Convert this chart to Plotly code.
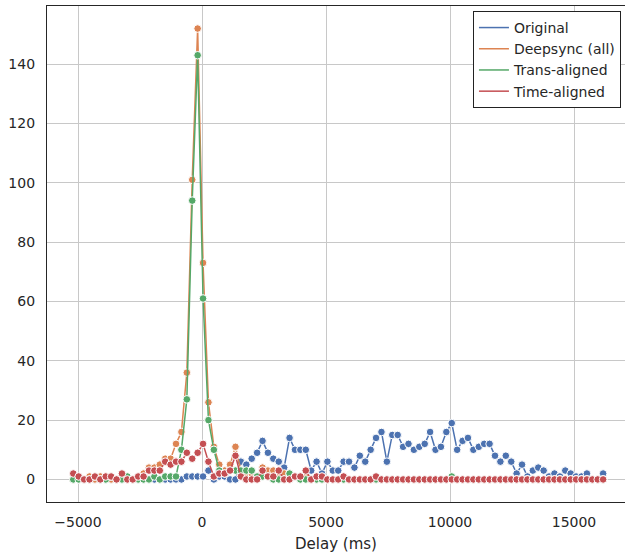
import plotly.graph_objects as go

delay_ms = [-5190, -4972, -4754, -4536, -4318, -4100, -3882, -3664, -3446, -3228,
            -3010, -2792, -2574, -2356, -2138, -1920, -1702, -1484, -1266, -1048,
            -830, -612, -394, -176, 42, 260, 478, 696, 914, 1132,
            1350, 1568, 1786, 2004, 2222, 2440, 2658, 2876, 3094, 3312,
            3530, 3748, 3966, 4184, 4402, 4620, 4838, 5056, 5274, 5492,
            5710, 5928, 6146, 6364, 6582, 6800, 7018, 7236, 7454, 7672,
            7890, 8108, 8326, 8544, 8762, 8980, 9198, 9416, 9634, 9852,
            10070, 10288, 10506, 10724, 10942, 11160, 11378, 11596, 11814, 12032,
            12250, 12468, 12686, 12904, 13122, 13340, 13558, 13776, 13994, 14212,
            14430, 14648, 14866, 15084, 15302, 15520, 15738, 15956, 16174]

original = [0, 0, 0, 0, 0, 0, 0, 0, 0, 0,
            0, 0, 0, 0, 0, 0, 0, 0, 0, 0,
            0, 1, 1, 1, 1, 3, 0, 1, 1, 0,
            0, 6, 5, 7, 9, 13, 9, 7, 6, 4,
            14, 10, 10, 10, 3, 6, 2, 6, 3, 3,
            6, 6, 4, 8, 6, 10, 14, 16, 6, 15,
            15, 11, 12, 10, 11, 12, 16, 10, 11, 16,
            19, 10, 13, 14, 10, 11, 12, 12, 8, 6,
            8, 6, 2, 5, 1, 3, 4, 3, 1, 2,
            1, 3, 2, 1, 1, 2, 0, 0, 2]

deepsync_all = [0, 0, 0, 1, 0, 1, 1, 0, 0, 1,
                0, 0, 1, 2, 4, 4, 5, 7, 7, 12,
                16, 36, 101, 152, 73, 26, 11, 5, 3, 5,
                11, 3, 2, 2, 1, 4, 3, 3, 2, 2,
                2, 1, 1, 1, 0, 0, 0, 0, 0, 0,
                0, 0, 0, 0, 0, 0, 0, 0, 0, 0,
                0, 0, 0, 0, 0, 0, 0, 0, 0, 0,
                0, 0, 0, 0, 0, 0, 0, 0, 0, 0,
                0, 0, 0, 0, 0, 0, 0, 0, 0, 0,
                0, 0, 0, 0, 0, 0, 0, 0, 0]

trans_aligned = [0, 0, 0, 0, 1, 0, 0, 1, 0, 0,
                 1, 0, 0, 0, 0, 1, 0, 1, 1, 1,
                 10, 27, 94, 143, 61, 20, 10, 3, 2, 3,
                 3, 3, 3, 3, 1, 1, 1, 0, 0, 0,
                 2, 1, 0, 0, 0, 0, 0, 0, 0, 0,
                 0, 0, 0, 0, 0, 0, 0, 0, 0, 0,
                 0, 0, 0, 0, 0, 0, 0, 0, 0, 0,
                 1, 0, 0, 0, 0, 0, 0, 0, 0, 0,
                 0, 0, 0, 0, 0, 0, 0, 0, 0, 0,
                 0, 0, 0, 0, 0, 0, 0, 0, 0]

time_aligned = [2, 1, 0, 0, 1, 0, 1, 1, 0, 2,
                0, 0, 1, 1, 3, 3, 3, 6, 5, 6,
                6, 9, 7, 9, 12, 6, 1, 2, 2, 3,
                8, 1, 0, 0, 0, 3, 1, 1, 3, 0,
                0, 1, 1, 3, 0, 1, 1, 0, 0, 0,
                1, 0, 0, 0, 0, 0, 1, 0, 0, 0,
                0, 0, 0, 0, 0, 0, 0, 0, 0, 0,
                0, 0, 0, 0, 0, 0, 0, 0, 0, 0,
                0, 0, 0, 0, 0, 0, 0, 0, 0, 0,
                0, 0, 0, 0, 0, 0, 0, 0, 0]

series_names = ["Original", "Deepsync (all)", "Trans-aligned", "Time-aligned"]
series_values = [original, deepsync_all, trans_aligned, time_aligned]
series_colors = ["#4C72B0", "#DD8452", "#55A868", "#C44E52"]

x_ticks = [-5000, 0, 5000, 10000, 15000]
y_ticks = [0, 20, 40, 60, 80, 100, 120, 140]

fig = go.Figure()
for name, vals, col in zip(series_names, series_values, series_colors):
    assert len(vals) == len(delay_ms)
    fig.add_trace(go.Scatter(
        x=delay_ms, y=vals, mode="lines+markers", name=name, showlegend=False,
        line=dict(color=col, width=1.5),
        marker=dict(color=col, size=7.6, line=dict(color="white", width=1)),
    ))
for name, col in zip(series_names, series_colors):
    fig.add_trace(go.Scatter(
        x=[None], y=[None], mode="lines", name=name, showlegend=True,
        line=dict(color=col, width=1.5),
    ))

font_family = "DejaVu Sans"
fig.update_layout(
    width=625, height=558,
    margin=dict(l=47, r=0, t=6, b=56),
    plot_bgcolor="white", paper_bgcolor="white",
    font=dict(family=font_family, size=14, color="#262626"),
    showlegend=True,
    legend=dict(
        x=0.993, y=0.99, xanchor="right", yanchor="top",
        bgcolor="white", bordercolor="#222222", borderwidth=1,
        font=dict(family=font_family, size=14, color="#262626"),
        tracegroupgap=0,
    ),
)
fig.update_xaxes(
    range=[-6250, 17056], tickvals=x_ticks,
    ticktext=["\u22125000", "0", "5000", "10000", "15000"],
    showgrid=True, gridcolor="#c8c8c8", gridwidth=1, zeroline=False,
    showline=True, linecolor="#262626", linewidth=1.3, mirror=True,
    ticks="outside", ticklen=7, tickcolor="rgba(0,0,0,0)",
    title=dict(text="Delay (ms)", font=dict(size=15), standoff=9),
)
fig.update_yaxes(
    range=[-7.6, 159.6], tickvals=y_ticks,
    showgrid=True, gridcolor="#c8c8c8", gridwidth=1, zeroline=False,
    showline=True, linecolor="#262626", linewidth=1.3, mirror=False,
    ticks="outside", ticklen=8, tickcolor="rgba(0,0,0,0)",
)

fig.write_html("out.html")
